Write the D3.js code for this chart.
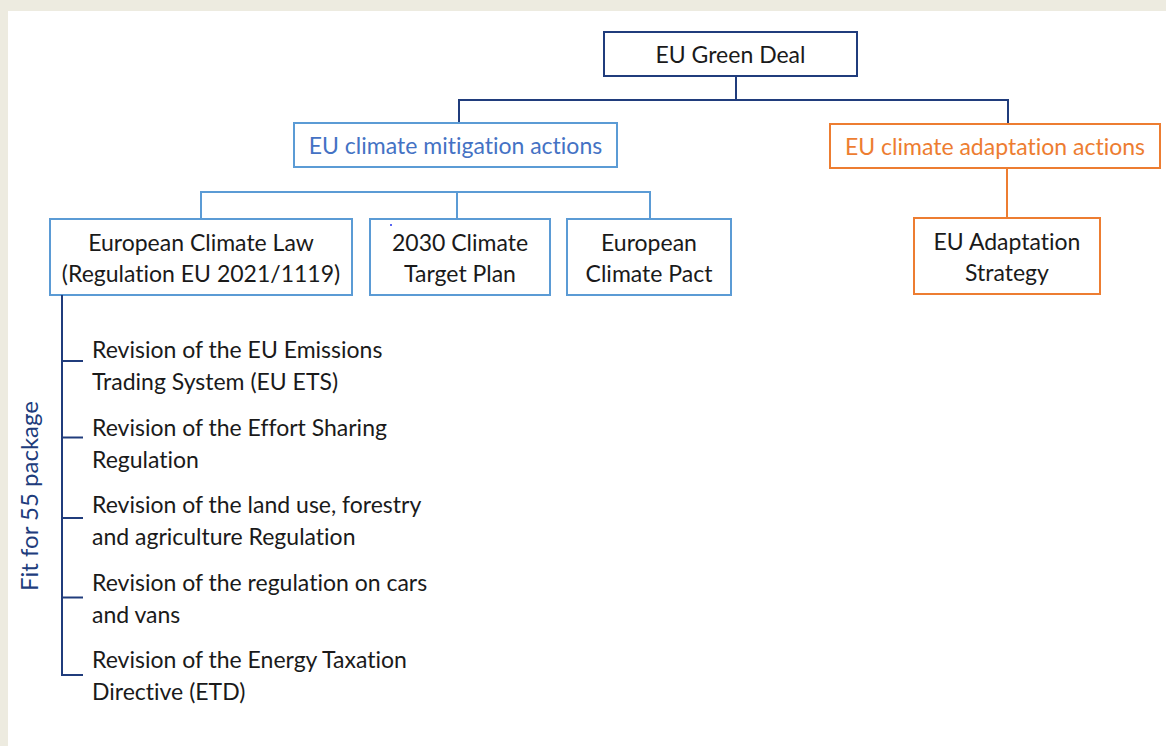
<!DOCTYPE html>
<html>
<head>
<meta charset="utf-8">
<script src="https://cdn.jsdelivr.net/npm/d3@7"></script>
<style>
  html, body { margin: 0; padding: 0; background: #fff; }
  svg { display: block; }
  text { font-family: Lato, "Open Sans", sans-serif; font-variant-ligatures: none; }
</style>
</head>
<body>
<svg id="chart" width="1166" height="746"></svg>
<script>
// Tree of the EU Green Deal
var rootLabel = ["EU Green Deal"];
var branchLabels = [["EU climate mitigation actions"], ["EU climate adaptation actions"]];
var mitigationLabels = [
	["European Climate Law", "(Regulation EU 2021/1119)"],
	["2030 Climate", "Target Plan"],
	["European", "Climate Pact"]
];
var adaptationLabels = [["EU Adaptation", "Strategy"]];
var packageTitle = "Fit for 55 package";
var packageItems = [
	["Revision of the EU Emissions", "Trading System (EU ETS)"],
	["Revision of the Effort Sharing", "Regulation"],
	["Revision of the land use, forestry", "and agriculture Regulation"],
	["Revision of the regulation on cars", "and vans"],
	["Revision of the Energy Taxation", "Directive (ETD)"]
];

const navy = "#203c7c";
const blue = "#5b9bd5";
const blueText = "#4472c4";
const orange = "#ed7d31";
const ink = "#1a1a1a";
const fontSize = 23;

function draw() {
	let svg = d3.select("#chart");
	const W = 1166, H = 746;

	// frame of the slide
	svg.append("rect").attr("width", W).attr("height", H).attr("fill", "#fff");
	svg.append("rect").attr("width", W).attr("height", 11).attr("fill", "#edebe0");
	svg.append("rect").attr("width", 8).attr("height", H).attr("fill", "#edebe0");

	// Box layout (pixel geometry, kept apart from the labels)
	let nodes = [
		{label: rootLabel, x: 604, y: 32, w: 253, h: 44, stroke: navy, color: ink},
		{label: branchLabels[0], x: 294, y: 123, w: 323, h: 44, stroke: blue, color: blueText},
		{label: branchLabels[1], x: 830, y: 124, w: 330, h: 44, stroke: orange, color: orange},
		{label: mitigationLabels[0], x: 50, y: 219, w: 302, h: 76, stroke: blue, color: ink},
		{label: mitigationLabels[1], x: 370, y: 219, w: 180, h: 76, stroke: blue, color: ink},
		{label: mitigationLabels[2], x: 567, y: 219, w: 164, h: 76, stroke: blue, color: ink},
		{label: adaptationLabels[0], x: 914, y: 218, w: 186, h: 76, stroke: orange, color: ink}
	];

	// connectors: drawn as elbow paths
	let line = d3.line();
	let links = [
		{pts: [[736, 76], [736, 100]], c: navy},
		{pts: [[459, 123], [459, 100], [1008, 100], [1008, 124]], c: navy},
		{pts: [[201, 219], [201, 192], [650, 192], [650, 219]], c: blue},
		{pts: [[457, 192], [457, 219]], c: blue},
		{pts: [[1007, 168], [1007, 218]], c: orange}
	];
	svg.append("g").selectAll("path")
		.data(links)
		.join("path")
		.attr("d", d => line(d.pts))
		.attr("fill", "none")
		.attr("stroke", d => d.c)
		.attr("stroke-width", 2);

	let g = svg.append("g").selectAll("g.node")
		.data(nodes)
		.join("g")
		.classed("node", true)
		.attr("transform", d => `translate(${d.x}, ${d.y})`);
	g.append("rect")
		.attr("width", d => d.w)
		.attr("height", d => d.h)
		.attr("fill", "#fff")
		.attr("stroke", d => d.stroke)
		.attr("stroke-width", 2);
	const lh = 31;
	g.append("text")
		.attr("text-anchor", "middle")
		.attr("font-size", fontSize)
		.attr("fill", d => d.color)
		.selectAll("tspan")
		.data(d => d.label.map((t, i) => ({t, i, n: d.label.length, d})))
		.join("tspan")
		.attr("x", d => d.d.w / 2)
		.attr("y", d => d.d.h / 2 + (d.i - (d.n - 1) / 2) * lh + 9)
		.text(d => d.t);

	// stray dot in the source image
	svg.append("circle").attr("cx", 391).attr("cy", 225).attr("r", 1).attr("fill", "#2233ee");

	// Fit for 55 list
	let y = d3.scalePoint()
		.domain(d3.range(packageItems.length))
		.range([358, 668]);
	const spineX = 62, tickX = 83, textX = 92;
	const tickOffset = [3, 2, 5, 7, 7];
	let fit = svg.append("g");
	fit.append("line")
		.attr("x1", spineX).attr("x2", spineX)
		.attr("y1", 295).attr("y2", y(packageItems.length - 1) + tickOffset[packageItems.length - 1])
		.attr("stroke", navy).attr("stroke-width", 2);
	let items = fit.selectAll("g.item")
		.data(packageItems)
		.join("g")
		.classed("item", true);
	items.append("line")
		.attr("x1", spineX - 1).attr("x2", tickX)
		.attr("y1", (d, i) => y(i) + tickOffset[i])
		.attr("y2", (d, i) => y(i) + tickOffset[i])
		.attr("stroke", navy).attr("stroke-width", 2);
	items.append("text")
		.attr("font-size", fontSize)
		.attr("fill", ink)
		.selectAll("tspan")
		.data((d, i) => d.map((t, j) => ({t, j, i})))
		.join("tspan")
		.attr("x", textX)
		.attr("y", d => y(d.i) + d.j * 32)
		.text(d => d.t);

	fit.append("text")
		.attr("transform", "translate(38, 496) rotate(-90)")
		.attr("text-anchor", "middle")
		.attr("font-size", 24)
		.attr("fill", navy)
		.text(packageTitle);
}
if (document.readyState !== "loading") draw();
else document.addEventListener("DOMContentLoaded", draw);
</script>
</body>
</html>
